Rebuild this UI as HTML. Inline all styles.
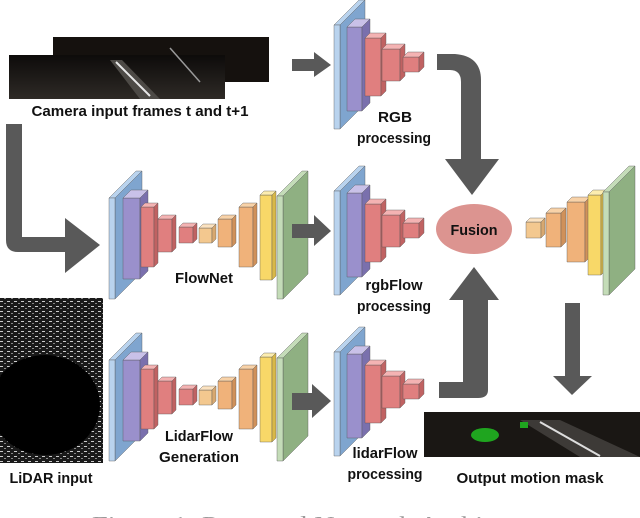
<!DOCTYPE html>
<html><head><meta charset="utf-8"><style>
html,body{margin:0;padding:0;background:#fff;width:640px;height:518px;overflow:hidden}
svg{display:block}
text{font-family:"Liberation Sans",sans-serif;font-weight:bold;fill:#111;font-size:15px}
</style></head><body>
<svg id="s" width="640" height="518" viewBox="0 0 640 518">
<defs>
<pattern id="lid" width="7" height="5" patternUnits="userSpaceOnUse">
<rect width="7" height="5" fill="#1a1a1a"/>
<rect x="0" y="1" width="3" height="1" fill="#ccc"/>
<rect x="4" y="3" width="2" height="1" fill="#888"/>
</pattern>
<linearGradient id="cam" x1="0" y1="0" x2="0" y2="1"><stop offset="0" stop-color="#0d0b0a"/><stop offset="1" stop-color="#2e2a26"/></linearGradient>
</defs>
<rect x="53" y="37" width="216" height="45" fill="#15110e"/>
<rect x="9" y="55" width="216" height="44" fill="url(#cam)"/>
<polygon points="110,60 122,60 160,99 140,99" fill="#4d4a46"/>
<line x1="116" y1="62" x2="150" y2="96" stroke="#e8e8e8" stroke-width="2"/>
<line x1="170" y1="48" x2="200" y2="82" stroke="#999" stroke-width="1.5"/>
<rect x="0" y="298" width="103" height="165" fill="url(#lid)"/>
<ellipse cx="45" cy="405" rx="55" ry="50" fill="#000"/>
<rect x="424" y="412" width="216" height="45" fill="#1a1714"/>
<polygon points="520,420 560,420 640,457 580,457" fill="#3d3a37"/>
<line x1="540" y1="422" x2="600" y2="456" stroke="#ddd" stroke-width="2"/>
<ellipse cx="485" cy="435" rx="14" ry="7" fill="#1fa51f"/>
<rect x="520" y="422" width="8" height="6" fill="#1fa51f"/>
<g id="g"></g>
<g fill="#595959">
<polygon points="292,59 314,59 314,52 331,65 314,77 314,71 292,71"/>
<path d="M6,124 H22 V237 H65 V218 L100,245 L65,273 V252 H18 Q6,252 6,240 Z"/>
<polygon points="292,224 314,224 314,215 331,231 314,246 314,238 292,238"/>
<polygon points="292,393 312,393 312,384 331,401 312,418 312,410 292,410"/>
<path d="M437,54 H455 Q481,56 481,80 V159 H499 L472,195 L445,159 H461 V82 Q461,70 450,70 H437 Z"/>
<path d="M439,382 H463 V300 H449 L474,267 L499,300 H488 V390 Q488,398 478,398 H439 Z"/>
<polygon points="565,303 580,303 580,376 592,376 572,395 553,376 565,376"/>
</g>
<ellipse cx="474" cy="229" rx="38" ry="25" fill="#dc9490"/>
<g lengthAdjust="spacingAndGlyphs">
<text x="474" y="235" text-anchor="middle" textLength="47" lengthAdjust="spacingAndGlyphs" font-size="16">Fusion</text>
<text x="140" y="116" text-anchor="middle" textLength="217" lengthAdjust="spacingAndGlyphs">Camera input frames t and t+1</text>
<text x="395" y="122" text-anchor="middle" textLength="34" lengthAdjust="spacingAndGlyphs">RGB</text>
<text x="394" y="143" text-anchor="middle" textLength="74" lengthAdjust="spacingAndGlyphs">processing</text>
<text x="204" y="283" text-anchor="middle" textLength="58" lengthAdjust="spacingAndGlyphs">FlowNet</text>
<text x="394" y="290" text-anchor="middle" textLength="57" lengthAdjust="spacingAndGlyphs">rgbFlow</text>
<text x="394" y="311" text-anchor="middle" textLength="74" lengthAdjust="spacingAndGlyphs">processing</text>
<text x="199" y="441" text-anchor="middle" textLength="68" lengthAdjust="spacingAndGlyphs">LidarFlow</text>
<text x="199" y="462" text-anchor="middle" textLength="80" lengthAdjust="spacingAndGlyphs">Generation</text>
<text x="385" y="458" text-anchor="middle" textLength="65" lengthAdjust="spacingAndGlyphs">lidarFlow</text>
<text x="385" y="479" text-anchor="middle" textLength="75" lengthAdjust="spacingAndGlyphs">processing</text>
<text x="51" y="483" text-anchor="middle" textLength="83" lengthAdjust="spacingAndGlyphs">LiDAR input</text>
<text x="530" y="483" text-anchor="middle" textLength="147" lengthAdjust="spacingAndGlyphs">Output motion mask</text>
</g>
<text x="326" y="531" text-anchor="middle" textLength="468" lengthAdjust="spacingAndGlyphs" style="font-family:'Liberation Serif',serif;font-weight:normal;font-size:21px;fill:#9a9a9a">Figure 1: Proposed Network Architecture</text>
</svg>
<script>
var g=document.getElementById('g'),h='';
function P(pts,c){h+='<polygon points="'+pts.map(function(p){return p.join(',')}).join(' ')+'" fill="'+c+'" stroke="#555" stroke-width="0.4"/>';}
var C={b:['#7fa5cf','#b9d3ee','#6589b3'],p:['#9a90cc','#c9c1e8','#7a70ad'],r:['#e07f7f','#f4b3b3','#c06262'],o:['#f0b27a','#f8d2a8','#d0915a'],l:['#f3c88f','#fbe2c0','#d8a870'],y:['#f8d868','#fcedb0','#d8b848'],g:['#8fb082','#c4dcb8','#799a6c']};
function box(x0,x1,y0,y1,d,k){var c=C[k];var fx=x1-d,fy=y0+d;
P([[x0,fy],[fx,fy],[fx,y1],[x0,y1]],c[0]);
P([[x0,fy],[x0+d,y0],[x1,y0],[fx,fy]],c[1]);
P([[fx,fy],[x1,y0],[x1,y1-d],[fx,y1]],c[2]);}
function plane(x0,x1,y0,y1,k){var c=C[k];var w=6,d=x1-x0-w;
P([[x0+w,y0+d],[x1,y0],[x1,y1-d],[x0+w,y1]],c[0]);
P([[x0,y0+d],[x1-w,y0],[x1,y0],[x0+w,y0+d]],c[1]);
P([[x0,y0+d],[x0+w,y0+d],[x0+w,y1],[x0,y1]],c[1]);}
function flow(dy){
plane(109,142,171+dy,299+dy,'b');
box(123,148,190+dy,279+dy,8,'p');
box(141,158,203+dy,267+dy,4,'r');
box(158,176,215+dy,252+dy,4,'r');
box(179,197,223+dy,243+dy,4,'r');
box(199,216,224+dy,243+dy,4,'l');
box(218,236,215+dy,247+dy,4,'o');
box(239,257,203+dy,267+dy,4,'o');
box(260,276,191+dy,280+dy,4,'y');
plane(277,308,171+dy,299+dy,'g');}
function proc(dy){
plane(334,365,166+dy,295+dy,'b');
box(347,370,185+dy,277+dy,8,'p');
box(365,386,199+dy,262+dy,5,'r');
box(382,405,210+dy,247+dy,5,'r');
box(403,424,218+dy,238+dy,5,'r');}
flow(0);flow(162);proc(-166);proc(0);proc(161);
box(526,545,218,238,4,'l');
box(546,566,208,247,5,'o');
box(567,590,197,262,5,'o');
box(588,606,190,275,5,'y');
plane(603,635,166,295,'g');
g.innerHTML=h;
</script>
</body></html>
